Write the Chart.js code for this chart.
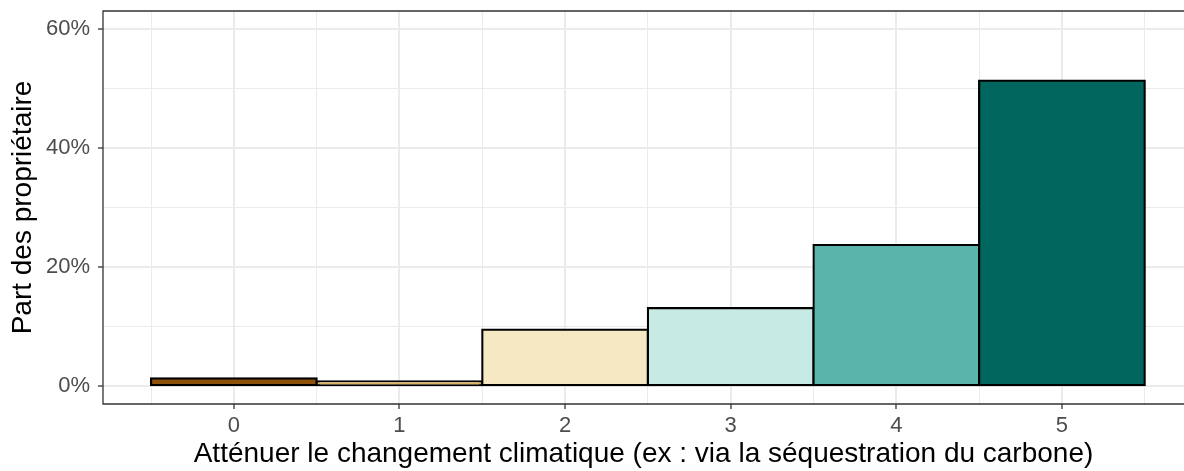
<!DOCTYPE html>
<html>
<head>
<meta charset="utf-8">
<script src="https://cdn.jsdelivr.net/npm/chart.js@4/dist/chart.umd.min.js"></script>
<style>
  html, body { margin: 0; padding: 0; background: #fff; }
  #wrap { width: 1184px; height: 471px; }
</style>
</head>
<body>
<div id="wrap"><canvas id="scoreChart" width="1184" height="471"></canvas></div>
<script>
// scores 0..5, share of owners (%)
const scores = [0, 1, 2, 3, 4, 5];
const shares = [1.3, 0.8, 9.5, 13.1, 23.7, 51.3];
const fills = ["#8C510A", "#D8B365", "#F6E8C3", "#C7EAE5", "#5AB4AC", "#01665E"];
const xGrid = [-0.5, 0, 0.5, 1, 1.5, 2, 2.5, 3, 3.5, 4, 4.5, 5, 5.5];
const yGrid = [0, 10, 20, 30, 40, 50, 60];
const yLabels = { 0: "0%", 20: "20%", 40: "40%", 60: "60%" };
const xTitle = "Atténuer le changement climatique (ex : via la séquestration du carbone)";
const yTitle = "Part des propriétaire";

const gridCol = "#EBEBEB";
const axisCol = "#333333";
const font = "'Liberation Sans', Arial, sans-serif";

// panel border (top, left, bottom; right side is cut off in the original)
const panelBorder = {
  id: "panelBorder",
  afterDatasetsDraw(chart) {
    const { ctx, chartArea: a } = chart;
    ctx.save();
    ctx.strokeStyle = axisCol;
    ctx.lineWidth = 1.3;
    ctx.beginPath();
    ctx.moveTo(chart.width, a.top);
    ctx.lineTo(a.left, a.top);
    ctx.lineTo(a.left, a.bottom);
    ctx.lineTo(chart.width, a.bottom);
    ctx.stroke();
    ctx.restore();
  }
};

const isMajorX = (c) => !!c.tick && Number.isInteger(c.tick.value);
const isMajorY = (c) => !!c.tick && c.tick.value % 20 === 0;

new Chart(document.getElementById("scoreChart").getContext("2d"), {
  type: "bar",
  data: {
    datasets: [{
      data: scores.map((s, i) => ({ x: s, y: shares[i] })),
      backgroundColor: fills,
      borderColor: "#000",
      borderWidth: 2.2,
      borderSkipped: false,
      inflateAmount: 1.1, // centre the outline on the bar edges like ggplot
      // ticks every 0.5 halve the bar ruler, so double it back to a full unit
      barPercentage: 2,
      categoryPercentage: 1
    }]
  },
  options: {
    responsive: false,
    animation: false,
    layout: { padding: { top: 11, right: 0, left: 0, bottom: 0 } },
    plugins: { legend: { display: false }, tooltip: { enabled: false } },
    scales: {
      x: {
        type: "linear",
        offset: false,
        min: -0.79,
        max: 5.737,
        afterBuildTicks: (s) => { s.ticks = xGrid.map(v => ({ value: v })); },
        afterFit: (s) => { s.height = 67; s.paddingLeft = 0; s.paddingRight = 0; },
        border: { display: false },
        grid: {
          offset: false,
          color: gridCol,
          lineWidth: (c) => isMajorX(c) ? 2 : 1,
          tickColor: (c) => isMajorX(c) ? axisCol : "rgba(0,0,0,0)",
          tickWidth: 1.3,
          tickLength: 5
        },
        ticks: {
          autoSkip: false,
          maxRotation: 0,
          color: "#4D4D4D",
          padding: 4,
          font: { family: font, size: 22 },
          callback: (v) => Number.isInteger(v) ? String(v) : ""
        },
        title: {
          display: true,
          text: xTitle,
          color: "#000",
          font: { family: font, size: 28 },
          padding: { top: 0, bottom: 0 }
        }
      },
      y: {
        min: -3,
        max: 63,
        afterBuildTicks: (s) => { s.ticks = yGrid.map(v => ({ value: v })); },
        afterFit: (s) => { s.width = 103; s.paddingTop = 0; s.paddingBottom = 0; },
        border: { display: false },
        grid: {
          color: gridCol,
          lineWidth: (c) => isMajorY(c) ? 2 : 1,
          tickColor: (c) => isMajorY(c) ? axisCol : "rgba(0,0,0,0)",
          tickWidth: 1.3,
          tickLength: 5
        },
        ticks: {
          autoSkip: false,
          color: "#4D4D4D",
          padding: 8,
          font: { family: font, size: 22 },
          callback: (v) => yLabels[v] || ""
        },
        title: {
          display: true,
          text: yTitle,
          color: "#000",
          font: { family: font, size: 28 },
          padding: { top: 6, bottom: 0 }
        }
      }
    }
  },
  plugins: [panelBorder]
});
</script>
</body>
</html>
